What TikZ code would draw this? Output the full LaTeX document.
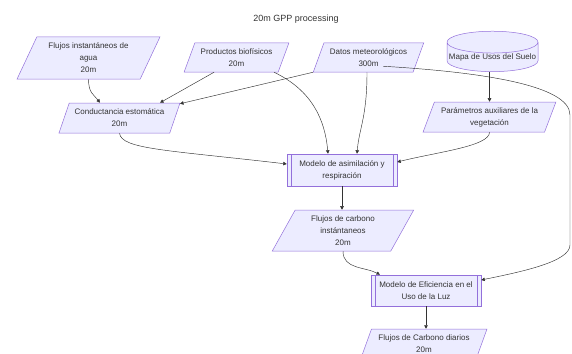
\documentclass[tikz,border=0pt]{standalone}
\usepackage{fontspec}
\setmainfont{Liberation Sans}
\usetikzlibrary{shapes.geometric,calc,arrows.meta}
\definecolor{boxfill}{HTML}{ECECFF}
\definecolor{boxline}{HTML}{9370DB}
\definecolor{inkgray}{HTML}{333333}
\tikzset{
  > = {Triangle[length=3.5pt,width=3.5pt]},
  flow/.style = {draw=boxline, fill=boxfill, line width=0.5pt, text=inkgray,
    font=\fontsize{8}{12}\selectfont, align=center, inner sep=0pt},
  dataset/.style = {flow, trapezium, trapezium left angle=63, trapezium right angle=117,
    trapezium stretches=true},
  process/.style = {flow, rectangle, path picture={
      \draw[boxline, line width=0.5pt]
        ([xshift=4pt]path picture bounding box.north west) -- ([xshift=4pt]path picture bounding box.south west)
        ([xshift=-4pt]path picture bounding box.north east) -- ([xshift=-4pt]path picture bounding box.south east);}},
  store/.style = {flow, cylinder, shape border rotate=90, aspect=0.25},
  link/.style = {->, draw=inkgray, line width=0.45pt},
}

\begin{document}
\begin{tikzpicture}[x=1pt, y=-1pt]
  \useasboundingbox (0,0) rectangle (572,353);

  % title
  \node[text=inkgray, font=\fontsize{9}{11}\selectfont] (title) at (296,19) {20m GPP processing};

  % inputs
  \node[dataset, minimum width=143pt, minimum height=42pt] (agua) at (88.5,58) {Flujos instantáneos de\\agua\\20m};
  \node[dataset, minimum width=105pt, minimum height=29pt] (prod) at (236.5,57.5) {Productos biofísicos\\20m};
  \node[dataset, minimum width=111pt, minimum height=29pt] (datos) at (368.5,57.5) {Datos meteorológicos\\300m};
  \node[store, minimum width=91pt, minimum height=38pt] (mapa) at (492.5,57) {Mapa de Usos del Suelo};

  % intermediate products
  \node[dataset, minimum width=121pt, minimum height=30pt] (cond) at (119.5,118) {Conductancia estomática\\20m};
  \node[dataset, minimum width=133pt, minimum height=30pt] (param) at (489.5,117) {Parámetros auxiliares de la\\vegetación};

  % models and outputs
  \node[process, minimum width=110pt, minimum height=32pt] (asim) at (342,170) {Modelo de asimilación y\\respiración};
  \node[dataset, minimum width=142pt, minimum height=41pt] (carbono) at (343,230.5) {Flujos de carbono\\instántaneos\\20m};
  \node[process, minimum width=110pt, minimum height=31pt] (efic) at (426,290.5) {Modelo de Eficiencia en el\\Uso de la Luz};
  \node[dataset, minimum width=126pt, minimum height=29pt] (diarios) at (424,343.5) {Flujos de Carbono diarios\\20m};

  % links to conductancia
  \draw[link] (agua.south) .. controls +(0,14) and +(-6,-8) .. ($(cond.north)+(-19.5,0)$);
  \draw[link] ($(prod.south)+(-22.5,0)$) -- ($(cond.north)+(40.5,0)$);
  \draw[link] ($(datos.south)+(-55.5,0)$) -- ($(cond.north)+(60.5,1)$);

  % links to modelo de asimilacion
  \draw[link] ($(prod.south)+(37.5,0)$) .. controls +(38,18) and +(-3,-34) .. ($(asim.north)+(-14,0)$);
  \draw[link] ($(datos.south)+(-1.5,0)$) .. controls +(0,45) and +(2,-25) .. ($(asim.north)+(15,0)$);
  \draw[link] (cond.south) .. controls +(2,16) and +(-120,-14) .. ($(asim.west)+(0,-6)$);
  \draw[link] (param.south) .. controls +(0,14) and +(40,-10) .. ($(asim.east)+(0,-8)$);
  \draw[link] (mapa.south -| param.north) -- (param.north);

  % datos to modelo de eficiencia
  \draw[link] ($(datos.south east)+(0,-6)$) .. controls (480,72) and (570,85) .. (570,115)
    -- (570,245) .. controls (570,262) and (520,272) .. ($(efic.east)+(0,-10.5)$);

  % chain down
  \draw[link] (asim.south) -- (asim.south |- carbono.north);
  \draw[link] (carbono.south) .. controls +(0,18) and +(-15,-8) .. ($(efic.north)+(-46,0)$);
  \draw[link] (efic.south) -- (efic.south |- diarios.north);
\end{tikzpicture}
\end{document}
